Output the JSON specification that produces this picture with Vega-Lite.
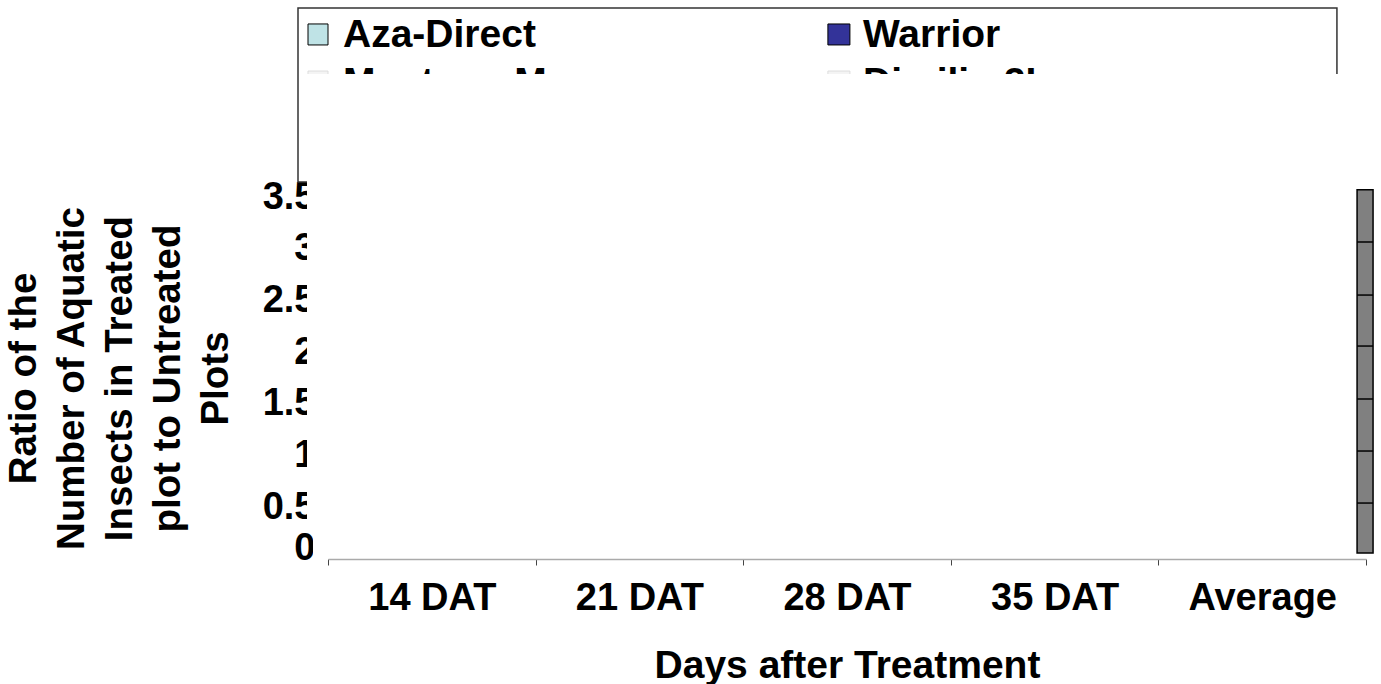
{
  "$schema": "https://vega.github.io/schema/vega-lite/v6.json",
  "autosize": {"type": "none"},
  "width": 1038,
  "height": 362,
  "padding": {"left": 328, "top": 197, "right": 15, "bottom": 125},
  "background": "white",
  "config": {"view": {"stroke": null}, "font": "Liberation Sans"},
  "datasets": {
    "legendFrame": [{"day0": -0.1445, "day1": 4.86, "ratio0": 3.645, "ratio1": 5.327}],
    "legendEntries": [
      {"series": "Aza-Direct", "day0": -0.0963, "day1": 0, "ratio0": 4.97, "ratio1": 5.173, "day": 0.0723, "ratio": 5.066},
      {"series": "Warrior", "day0": 2.408, "day1": 2.514, "ratio0": 4.97, "ratio1": 5.173, "day": 2.577, "ratio": 5.066},
      {"series": "Mustang Max", "day0": -0.0963, "day1": 0, "ratio0": 4.515, "ratio1": 4.718, "day": 0.0723, "ratio": 4.602},
      {"series": "Dimilin 2L", "day0": 2.408, "day1": 2.514, "ratio0": 4.515, "ratio1": 4.718, "day": 2.577, "ratio": 4.602}
    ],
    "covers": [
      {"day0": -0.1012, "day1": 4.957, "ratio0": 0.28, "ratio1": 4.689},
      {"day0": -0.0723, "day1": 4.957, "ratio0": 0.029, "ratio1": 0.29}
    ],
    "wall": [{"day0": 4.957, "day1": 5.034, "ratio0": 0.058, "ratio1": 3.57}],
    "wallLines": [
      {"day0": 4.957, "day1": 5.034, "ratio": 0.541},
      {"day0": 4.957, "day1": 5.034, "ratio": 1.044},
      {"day0": 4.957, "day1": 5.034, "ratio": 1.547},
      {"day0": 4.957, "day1": 5.034, "ratio": 2.059},
      {"day0": 4.957, "day1": 5.034, "ratio": 2.552},
      {"day0": 4.957, "day1": 5.034, "ratio": 3.065}
    ]
  },
  "layer": [
    {
      "data": {"name": "covers"},
      "mark": {"type": "rect", "fill": "white", "strokeWidth": 0, "opacity": 0},
      "encoding": {
        "x": {"field": "day0", "type": "quantitative", "scale": {"domain": [0, 5], "nice": false, "zero": false},
          "axis": {
            "values": [0, 0.5, 1, 1.5, 2, 2.5, 3, 3.5, 4, 4.5, 5],
            "labelExpr": "datum.value == 0.5 ? '14 DAT' : datum.value == 1.5 ? '21 DAT' : datum.value == 2.5 ? '28 DAT' : datum.value == 3.5 ? '35 DAT' : datum.value == 4.5 ? 'Average' : ''",
            "tickOpacity": {"condition": {"test": "datum.value % 1 === 0", "value": 1}, "value": 0},
            "tickSize": 6, "tickColor": "#444444", "tickWidth": 1,
            "domainColor": "#aaaaaa", "domainWidth": 1.5,
            "grid": false,
            "labelFont": "Liberation Sans", "labelFontSize": 38, "labelFontWeight": "bold", "labelColor": "#000000",
            "labelPadding": 14, "labelFlush": false, "labelOverlap": false, "labelBound": false,
            "title": "Days after Treatment", "titleFont": "Liberation Sans", "titleFontSize": 39, "titleFontWeight": "bold", "titleColor": "#000000",
            "titlePadding": 29
          }},
        "x2": {"field": "day1"},
        "y": {"field": "ratio0", "type": "quantitative", "scale": {"domain": [0, 3.5], "nice": false, "zero": false},
          "axis": {
            "values": [0, 0.5, 1, 1.5, 2, 2.5, 3, 3.5],
            "format": "~g",
            "ticks": false, "domain": false, "grid": false,
            "labelFont": "Liberation Sans", "labelFontSize": 38, "labelFontWeight": "bold", "labelColor": "#000000",
            "labelPadding": 13, "labelOverlap": false, "labelBound": false, "labelFlush": false,
            "labelBaseline": {"condition": {"test": "datum.value === 0", "value": "alphabetic"}, "value": "middle"},
            "title": ["Ratio of the", "Number of Aquatic", "Insects in Treated", "plot to Untreated", "Plots"],
            "titleFont": "Liberation Sans", "titleFontSize": 38.5, "titleFontWeight": "bold", "titleColor": "#000000",
            "titleLineHeight": 48, "titlePadding": 27
          }},
        "y2": {"field": "ratio1"}
      }
    },
    {
      "data": {"name": "legendFrame"},
      "mark": {"type": "rect", "fill": "white", "stroke": "#333333", "strokeWidth": 1.5},
      "encoding": {
        "x": {"field": "day0", "type": "quantitative", "scale": {"domain": [0, 5], "nice": false, "zero": false}},
        "x2": {"field": "day1"},
        "y": {"field": "ratio0", "type": "quantitative", "scale": {"domain": [0, 3.5], "nice": false, "zero": false}},
        "y2": {"field": "ratio1"}
      }
    },
    {
      "data": {"name": "legendEntries"},
      "mark": {"type": "rect", "strokeWidth": 1},
      "encoding": {
        "x": {"field": "day0", "type": "quantitative", "scale": {"domain": [0, 5], "nice": false, "zero": false}},
        "x2": {"field": "day1"},
        "y": {"field": "ratio0", "type": "quantitative", "scale": {"domain": [0, 3.5], "nice": false, "zero": false}},
        "y2": {"field": "ratio1"},
        "fill": {"field": "series", "type": "nominal", "legend": null,
          "scale": {"domain": ["Aza-Direct", "Warrior", "Mustang Max", "Dimilin 2L"], "range": ["#bfe3e6", "#333399", "#f4f4f4", "#f4f4f4"]}},
        "stroke": {"field": "series", "type": "nominal", "legend": null,
          "scale": {"domain": ["Aza-Direct", "Warrior", "Mustang Max", "Dimilin 2L"], "range": ["#000000", "#000000", "#dddddd", "#dddddd"]}}
      }
    },
    {
      "data": {"name": "legendEntries"},
      "mark": {"type": "text", "align": "left", "baseline": "middle", "fontSize": 39, "fontWeight": "bold", "color": "#000000", "font": "Liberation Sans"},
      "encoding": {
        "x": {"field": "day", "type": "quantitative", "scale": {"domain": [0, 5], "nice": false, "zero": false}},
        "y": {"field": "ratio", "type": "quantitative", "scale": {"domain": [0, 3.5], "nice": false, "zero": false}},
        "text": {"field": "series"}
      }
    },
    {
      "data": {"name": "covers"},
      "mark": {"type": "rect", "fill": "white", "strokeWidth": 0},
      "encoding": {
        "x": {"field": "day0", "type": "quantitative", "scale": {"domain": [0, 5], "nice": false, "zero": false}},
        "x2": {"field": "day1"},
        "y": {"field": "ratio0", "type": "quantitative", "scale": {"domain": [0, 3.5], "nice": false, "zero": false}},
        "y2": {"field": "ratio1"}
      }
    },
    {
      "data": {"name": "wall"},
      "mark": {"type": "rect", "fill": "#808080", "stroke": "#000000", "strokeWidth": 1.5},
      "encoding": {
        "x": {"field": "day0", "type": "quantitative", "scale": {"domain": [0, 5], "nice": false, "zero": false}},
        "x2": {"field": "day1"},
        "y": {"field": "ratio0", "type": "quantitative", "scale": {"domain": [0, 3.5], "nice": false, "zero": false}},
        "y2": {"field": "ratio1"}
      }
    },
    {
      "data": {"name": "wallLines"},
      "mark": {"type": "rule", "stroke": "#000000", "strokeWidth": 1.5},
      "encoding": {
        "x": {"field": "day0", "type": "quantitative", "scale": {"domain": [0, 5], "nice": false, "zero": false}},
        "x2": {"field": "day1"},
        "y": {"field": "ratio", "type": "quantitative", "scale": {"domain": [0, 3.5], "nice": false, "zero": false}}
      }
    }
  ]
}
